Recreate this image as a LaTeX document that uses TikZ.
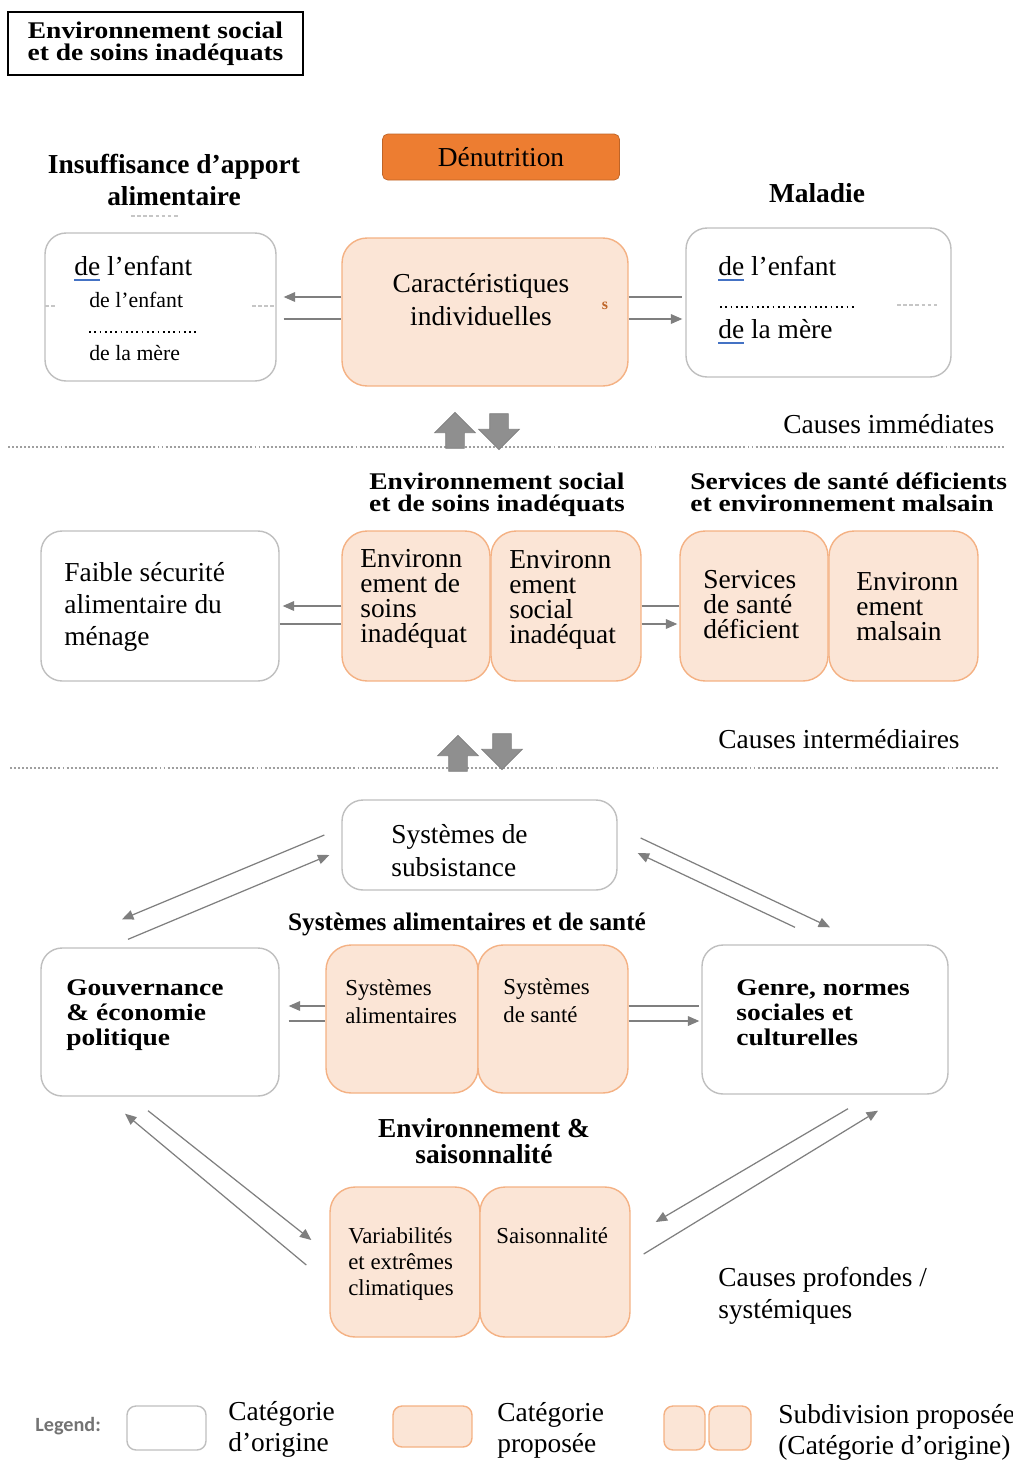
\documentclass[tikz,border=0pt]{standalone}
\usepackage{fontspec}
\setmainfont{Liberation Serif}
\newfontfamily\widebf{Liberation Serif}[FakeStretch=1.15]
\newfontfamily\legfont{Carlito}
\usepackage{xcolor}
\usetikzlibrary{arrows.meta}
\usetikzlibrary{calc}
\usetikzlibrary{shapes}

\definecolor{peach}{HTML}{FBE5D6}
\definecolor{peachline}{HTML}{F4B183}
\definecolor{boxline}{HTML}{BFBFBF}
\definecolor{linkgray}{HTML}{7F7F7F}
\definecolor{blockgray}{HTML}{8F8F8F}
\definecolor{orangebox}{HTML}{ED7D31}
\definecolor{ulblue}{HTML}{4472C4}

\newcommand\bodyfont{\fontsize{15.6}{18.3}\selectfont}
\newcommand\smallfont{\fontsize{13}{15.9}\selectfont}

\tikzset{
  orig/.style={draw=boxline, line width=0.8pt, fill=white, rounded corners=0.42cm, inner sep=0pt},
  prop/.style={draw=peachline, line width=0.8pt, fill=peach, rounded corners=0.5cm, inner sep=0pt},
  txt/.style={anchor=base west, align=left, inner sep=0pt, font=\bodyfont},
  headtext/.style={anchor=base, align=center, inner sep=0pt, font=\bfseries\fontsize{15.6}{18}\selectfont},
  widehead/.style={align=center, inner sep=0pt, font=\widebf\bfseries\fontsize{13.6}{12.4}\selectfont},
  link/.style={draw=linkgray, line width=0.7pt},
  arr/.style={link, -{Triangle[length=6.5pt,width=5.5pt]}},
  blockarrow/.style={single arrow, draw=linkgray, fill=blockgray, line width=0.4pt, minimum height=0.72cm, minimum width=0.8cm, single arrow head extend=0.22cm, inner sep=0.18cm},
  levelline/.style={draw=gray!75, line width=0.9pt, dash pattern=on 1.1pt off 1.2pt},
  dotrule/.style={draw=black, line width=0.6pt, dash pattern=on 1pt off 2pt},
  faint/.style={draw=gray!45, line width=0.7pt, dash pattern=on 2pt off 1.5pt},
  uline/.style={draw=ulblue, line width=0.8pt}
}

\begin{document}
\begin{tikzpicture}[x=0.02cm, y=-0.02cm]
\useasboundingbox (0,0) rectangle (1012,1461);

\node [draw=black, line width=0.9pt, minimum width=5.9cm, minimum height=1.26cm, widehead,
       font=\widebf\bfseries\fontsize{13.6}{12.5}\selectfont] (title) at (155.5,43.5)
       {Environnement social\\et de soins inadéquats};
\node [fill=orangebox, draw=orangebox!80!black, rounded corners=3pt, minimum width=4.74cm,
       minimum height=0.92cm, font=\bodyfont] (denut) at (501,157) {Dénutrition};

\node [headtext] (insuf) at (174,205) {Insuffisance d’apport\\alimentaire};
\node [headtext] (maladie) at (817,202) {Maladie};
\draw [faint] (131,216) -- (178,216);

\node [orig, minimum width=4.62cm, minimum height=2.96cm] (apport) at (160.5,307) {};
\node [prop, minimum width=5.72cm, minimum height=2.96cm] (indiv) at (485,312) {};
\node [orig, minimum width=5.3cm, minimum height=2.98cm] (maladiebox) at (818.5,302.5) {};
\draw [faint] (45,306) -- (57,306);
\draw [faint] (252,306) -- (276,306);
\draw [faint] (897,305) -- (940,305);

\node [txt] (apportA) at (74,275) {de l’enfant};
\node [txt, font=\fontsize{12.4}{14}\selectfont] (apportB) at (89,307) {de l’enfant};
\node [txt, font=\fontsize{12.4}{14}\selectfont] (apportC) at (89,360) {de la mère};
\draw [dotrule] (89,332) -- (196,332);
\draw [uline] ([yshift=-0.1cm]apportA.base west) -- ++(26,0);

\node [txt, anchor=base, align=center] (indivtxt) at (481,325) {Caractéristiques\\individuelles};
\node [font=\bfseries\fontsize{9}{9}\selectfont, text=orangebox!80!black, inner sep=0pt]
       (mark) at (605,306) {s};

\node [txt] (maladieA) at (718,275) {de l’enfant};
\node [txt] (maladieB) at (718,338) {de la mère};
\draw [dotrule] (720,307) -- (855,307);
\draw [uline] ([yshift=-0.1cm]maladieA.base west) -- ++(26,0);
\draw [uline] ([yshift=-0.1cm]maladieB.base west) -- ++(26,0);

\draw [arr] ($(indiv.west)+(0,-15)$) -- ($(apport.east |- indiv.west)+(7,-15)$);
\draw [link] ($(apport.east |- indiv.west)+(7,7)$) -- ($(indiv.west)+(0,7)$);
\draw [link] ($(indiv.east)+(0,-15)$) -- ($(maladiebox.west |- indiv.east)+(-3,-15)$);
\draw [arr] ($(indiv.east)+(0,7)$) -- ($(maladiebox.west |- indiv.east)+(-3,7)$);

\draw [levelline] (8,447) -- (1005,447);
\node [blockarrow, shape border rotate=90] (upA) at (455,435) {};
\node [blockarrow, shape border rotate=270] (downA) at (499,427) {};
\node [txt] (immed) at (783,433) {Causes immédiates};

\node [widehead, anchor=base] (envhead) at (497,511) {Environnement social\\et de soins inadéquats};
\node [widehead, anchor=base west, align=left] (servhead) at (690,511)
       {Services de santé déficients\\et environnement malsain};

\node [orig, minimum width=4.76cm, minimum height=3cm] (menage) at (160,606) {};
\node [txt, font=\fontsize{15.6}{18.1}\selectfont] (menagetxt) at (64,645)
       {Faible sécurité\\alimentaire du\\ménage};
\node [prop, minimum width=2.96cm, minimum height=3cm] (soins) at (416,606) {};
\node [prop, minimum width=3cm, minimum height=3cm] (social) at (566,606) {};
\node [txt, font=\fontsize{15.6}{14.2}\selectfont] (soinstxt) at (360,642)
       {Environn\\ement de\\soins\\inadéquat};
\node [txt, font=\fontsize{15.6}{14.2}\selectfont] (socialtxt) at (509,643)
       {Environn\\ement\\social\\inadéquat};
\node [prop, minimum width=2.96cm, minimum height=3cm] (services) at (754,606) {};
\node [prop, minimum width=2.98cm, minimum height=3cm] (malsain) at (903.5,606) {};
\node [txt, font=\fontsize{15.6}{14.2}\selectfont] (servicestxt) at (703,638)
       {Services\\de santé\\déficient};
\node [txt, font=\fontsize{15.6}{14.2}\selectfont] (malsaintxt) at (856,640)
       {Environn\\ement\\malsain};

\draw [arr] (soins.west) -- ($(menage.east)+(3,0)$);
\draw [link] ($(menage.east)+(0,18)$) -- ($(soins.west)+(0,18)$);
\draw [link] (social.east) -- (services.west);
\draw [arr] ($(social.east)+(0,18)$) -- ($(services.west)+(-2,18)$);

\draw [levelline] (10,768) -- (1000,768);
\node [blockarrow, shape border rotate=90] (upB) at (458,758) {};
\node [blockarrow, shape border rotate=270] (downB) at (502,747) {};
\node [txt] (interm) at (718,748) {Causes intermédiaires};

\node [orig, minimum width=5.5cm, minimum height=1.8cm] (subsist) at (479.5,845) {};
\node [txt] (subsisttxt) at (391,876) {Systèmes de\\subsistance};
\node [headtext, font=\bfseries\fontsize{14.4}{16}\selectfont] (alimhead) at (467,930)
       {Systèmes alimentaires et de santé};

\node [orig, minimum width=4.76cm, minimum height=2.96cm] (gouv) at (160,1022) {};
\node [widehead, anchor=base west, align=left, font=\widebf\bfseries\fontsize{13.6}{14.2}\selectfont]
       (gouvtxt) at (66,1045) {Gouvernance\\\& économie\\politique};
\node [prop, minimum width=3.04cm, minimum height=2.96cm] (alim) at (402,1019) {};
\node [prop, minimum width=3cm, minimum height=2.96cm] (sante) at (553,1019) {};
\node [txt, font=\smallfont] (alimtxt) at (345,1023) {Systèmes\\alimentaires};
\node [txt, font=\smallfont] (santetxt) at (503,1022) {Systèmes\\de santé};
\node [orig, minimum width=4.92cm, minimum height=2.98cm] (genre) at (825,1019.5) {};
\node [widehead, anchor=base west, align=left, font=\widebf\bfseries\fontsize{13.6}{14.2}\selectfont]
       (genretxt) at (736,1045) {Genre, normes\\sociales et\\culturelles};

\draw [arr] ($(alim.west)+(0,-13)$) -- ($(gouv.east |- alim.west)+(9,-13)$);
\draw [link] ($(gouv.east |- alim.west)+(9,2)$) -- ($(alim.west)+(0,2)$);
\draw [link] ($(sante.east)+(0,-13)$) -- ($(genre.west |- sante.east)+(-2,-13)$);
\draw [arr] ($(sante.east)+(0,2)$) -- ($(genre.west |- sante.east)+(-2,2)$);

\draw [arr] ($(subsist.west)+(-17,-10)$) -- ($(gouv.north)+(-38,-28)$);
\draw [arr] ($(gouv.north)+(-32,-8)$) -- ($(subsist.west)+(-12,10)$);
\draw [arr] ($(subsist.east)+(23,-7)$) -- ($(genre.north)+(5,-17)$);
\draw [arr] ($(genre.north)+(-30,-17)$) -- ($(subsist.east)+(20,8)$);

\node [headtext, font=\bfseries\fontsize{15.6}{14.7}\selectfont] (saishead) at (484,1163)
       {Environnement \&\\saisonnalité};
\node [prop, minimum width=3cm, minimum height=3cm] (climat) at (405,1262) {};
\node [prop, minimum width=3cm, minimum height=3cm] (saison) at (555,1262) {};
\node [txt, font=\fontsize{13}{14.7}\selectfont] (climattxt) at (348,1295)
       {Variabilités\\et extrêmes\\climatiques};
\node [txt, font=\smallfont] (saisontxt) at (496,1243) {Saisonnalité};

\draw [arr] ($(gouv.south)+(-12,14)$) -- ($(climat.west)+(-18,-22)$);
\draw [arr] ($(climat.west)+(-23,3)$) -- ($(gouv.south)+(-35,17)$);
\draw [arr] ($(genre.south)+(23,14)$) -- ($(saison.east)+(25,-40)$);
\draw [arr] ($(saison.east)+(13,-8)$) -- ($(genre.south)+(53,16)$);

\node [txt, font=\fontsize{15.6}{18.1}\selectfont] (profond) at (718,1318)
       {Causes profondes /\\systémiques};

\node [anchor=base west, inner sep=0pt, font=\legfont\bfseries\fontsize{11.5}{12}\selectfont,
       text=gray!90!black] (legend) at (35,1431) {Legend:};
\node [orig, rounded corners=0.18cm, minimum width=1.58cm, minimum height=0.88cm] (legorig) at (166.5,1428) {};
\node [txt, font=\fontsize{15.6}{17.6}\selectfont] (legorigtxt) at (228,1451) {Catégorie\\d’origine};
\node [prop, rounded corners=0.18cm, minimum width=1.58cm, minimum height=0.82cm] (legprop) at (432.5,1426.5) {};
\node [txt, font=\fontsize{15.6}{17.6}\selectfont] (legproptxt) at (497,1452) {Catégorie\\proposée};
\node [prop, rounded corners=0.18cm, minimum width=0.82cm, minimum height=0.88cm] (legsubA) at (684.5,1428) {};
\node [prop, rounded corners=0.18cm, minimum width=0.84cm, minimum height=0.88cm] (legsubB) at (730,1428) {};
\node [txt, font=\fontsize{15.6}{17.6}\selectfont] (legsubtxt) at (778,1454)
       {Subdivision proposée\\(Catégorie d’origine)};
\end{tikzpicture}
\end{document}
